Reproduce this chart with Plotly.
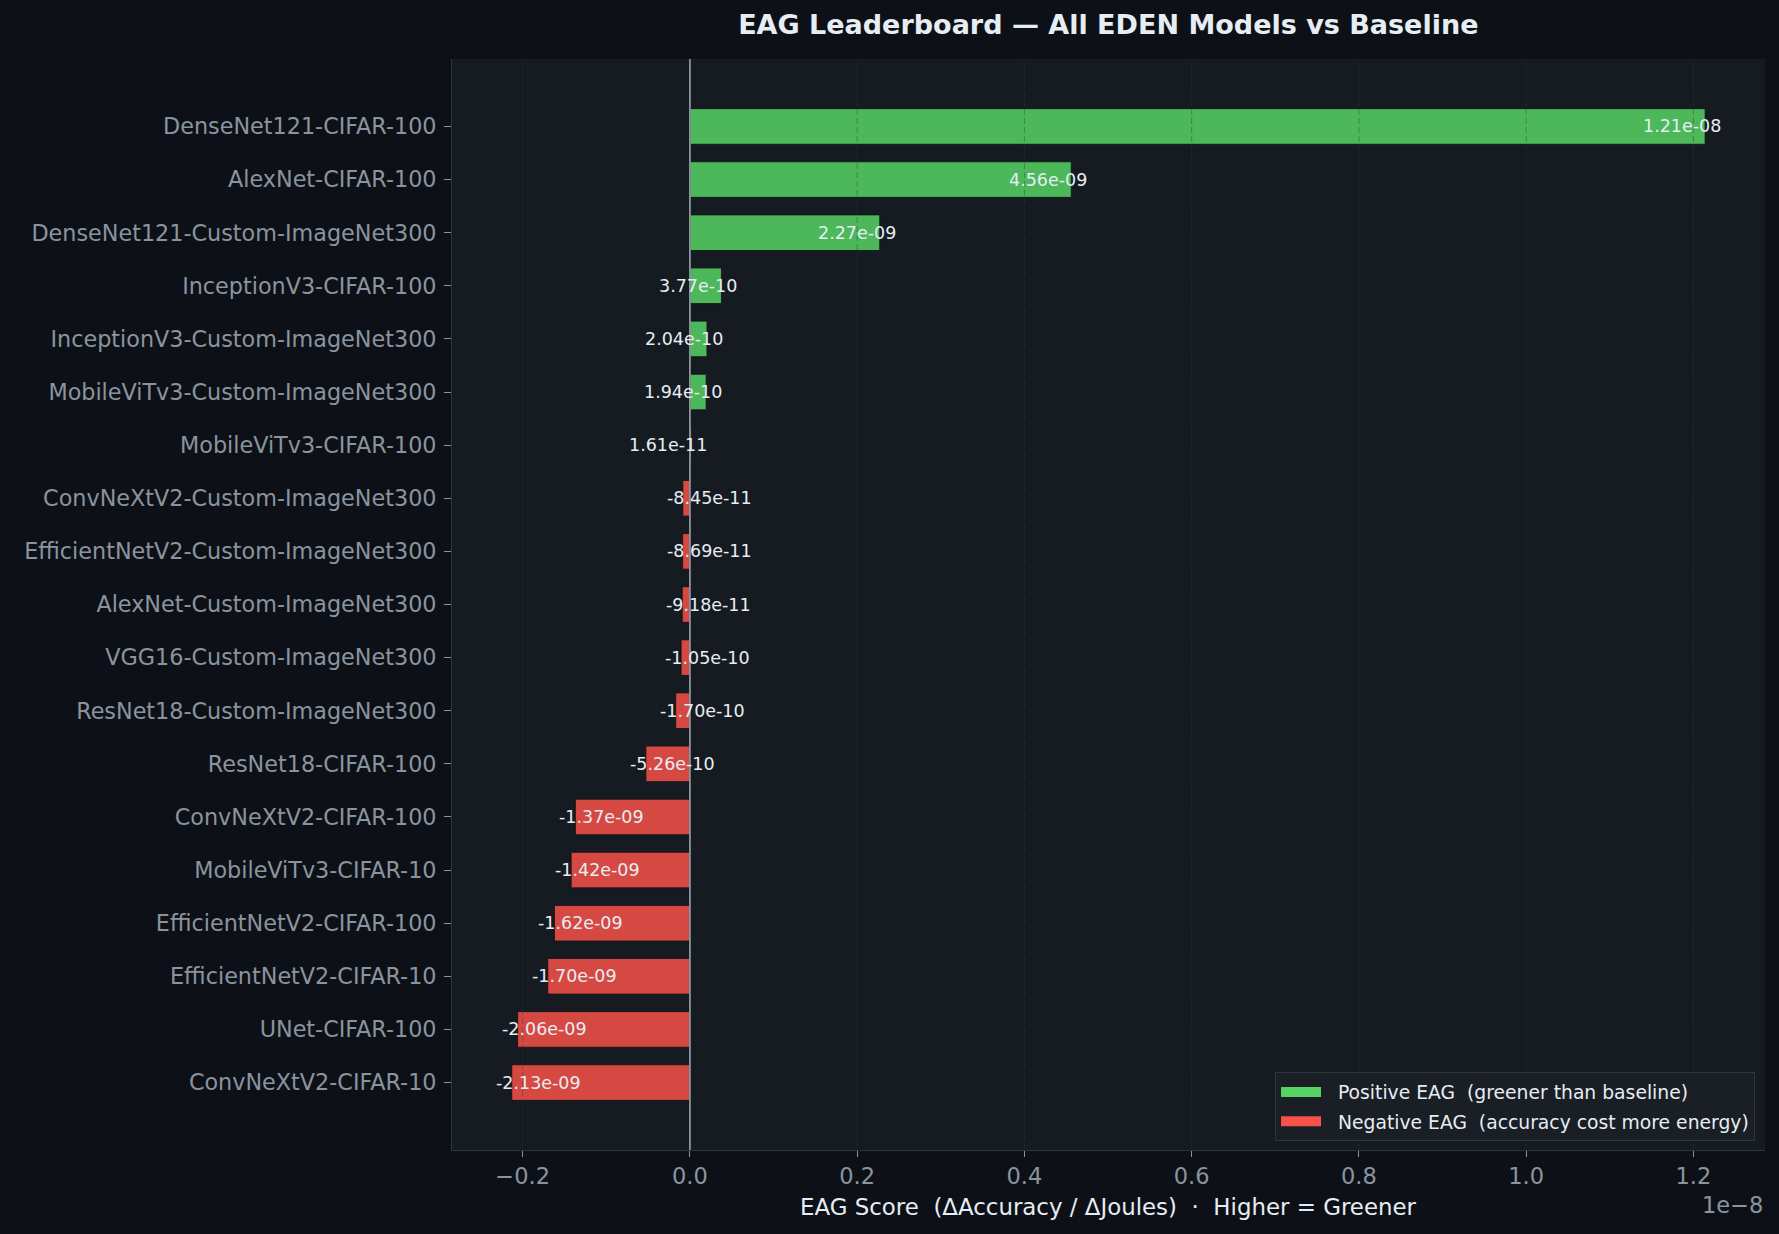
import plotly.graph_objects as go

# EAG leaderboard data (top to bottom)
models = [
    "DenseNet121-CIFAR-100", "AlexNet-CIFAR-100", "DenseNet121-Custom-ImageNet300",
    "InceptionV3-CIFAR-100", "InceptionV3-Custom-ImageNet300", "MobileViTv3-Custom-ImageNet300",
    "MobileViTv3-CIFAR-100", "ConvNeXtV2-Custom-ImageNet300", "EfficientNetV2-Custom-ImageNet300",
    "AlexNet-Custom-ImageNet300", "VGG16-Custom-ImageNet300", "ResNet18-Custom-ImageNet300",
    "ResNet18-CIFAR-100", "ConvNeXtV2-CIFAR-100", "MobileViTv3-CIFAR-10",
    "EfficientNetV2-CIFAR-100", "EfficientNetV2-CIFAR-10", "UNet-CIFAR-100", "ConvNeXtV2-CIFAR-10",
]
eag = [
    1.214e-08, 4.56e-09, 2.27e-09, 3.77e-10, 2.04e-10, 1.94e-10, 1.61e-11,
    -8.45e-11, -8.69e-11, -9.18e-11, -1.05e-10, -1.70e-10, -5.26e-10,
    -1.37e-09, -1.42e-09, -1.62e-09, -1.70e-09, -2.06e-09, -2.13e-09,
]
tick_vals = [-0.2e-8, 0.0, 0.2e-8, 0.4e-8, 0.6e-8, 0.8e-8, 1.0e-8, 1.2e-8]
tick_text = ["\u22120.2", "0.0", "0.2", "0.4", "0.6", "0.8", "1.0", "1.2"]

GREEN = "#56d364"
RED = "#f85149"
FONT = "DejaVu Sans"
NB2 = "\u00a0\u00a0"

bar_colors = ["rgba(86,211,100,0.85)" if v >= 0 else "rgba(248,81,73,0.85)" for v in eag]

fig = go.Figure()
fig.add_trace(go.Bar(
    x=eag, y=models, orientation="h", width=0.67,
    marker=dict(color=bar_colors, line=dict(color="#0d1117", width=0.8)),
    showlegend=False, hoverinfo="x+y",
))
# legend entries (thick line swatches)
fig.add_trace(go.Scatter(x=[None], y=[None], mode="lines", line=dict(color=GREEN, width=15),
                         name=NB2 + "Positive EAG" + NB2 + "(greener than baseline)", legendgroup="p"))
fig.add_trace(go.Scatter(x=[None], y=[None], mode="lines", line=dict(color=RED, width=15),
                         name=NB2 + "Negative EAG" + NB2 + "(accuracy cost more energy)", legendgroup="n"))

# value labels
for m, v in zip(models, eag):
    fig.add_annotation(
        x=v, y=m, text=f"{v:.2e}", showarrow=False, borderpad=0,
        xanchor="right" if v >= 0 else "left", xshift=17 if v >= 0 else -17,
        font=dict(family=FONT, size=17.5, color="#e6edf3"),
    )

# dashed grid drawn above the bars, plus zero line
for t in tick_vals:
    fig.add_shape(type="line", x0=t, x1=t, y0=0, y1=1, xref="x", yref="paper", layer="above",
                  line=dict(color="rgba(48,54,61,0.4)", width=1, dash="6px,3px"))
fig.add_shape(type="line", x0=0, x1=0, y0=0, y1=1, xref="x", yref="paper", layer="above",
              line=dict(color="#8b949e", width=1.8))

fig.add_annotation(x=1, y=-0.0504, xref="paper", yref="paper", text="1e\u22128", showarrow=False,
                   xanchor="right", yanchor="middle", font=dict(family=FONT, size=22.5, color="#8b949e"))
fig.add_annotation(x=0.5, y=-0.0522, xref="paper", yref="paper",
                   text="EAG Score" + NB2 + "(\u0394Accuracy / \u0394Joules)" + NB2 + "\u00b7" + NB2 + "Higher = Greener",
                   showarrow=False, xanchor="center", yanchor="middle",
                   font=dict(family=FONT, size=22.9, color="#e6edf3"))

fig.update_layout(
    width=1779, height=1234,
    margin=dict(l=452, r=14, t=59, b=84),
    paper_bgcolor="#0d1117", plot_bgcolor="#161b22",
    barmode="overlay",
    title=dict(text="EAG Leaderboard \u2014 All EDEN Models vs Baseline",
               x=0.623, xanchor="center", y=1 - 25 / 1234, yanchor="middle",
               font=dict(family=FONT, size=27, color="#e6edf3", weight="bold")),
    font=dict(family=FONT, color="#8b949e"),
    legend=dict(x=0.9924, y=0.008, xanchor="right", yanchor="bottom",
                bgcolor="#1a1e25", bordercolor="#30363d", borderwidth=1,
                font=dict(family=FONT, size=18.75, color="#e6edf3"),
                traceorder="grouped", tracegroupgap=2, itemwidth=40),
)
fig.update_xaxes(
    range=[-0.2845e-8, 1.2856e-8], tickvals=tick_vals, ticktext=tick_text,
    showgrid=False, zeroline=False, showline=True, linecolor="#30363d", linewidth=1,
    ticks="outside", ticklen=6, tickwidth=1.3, tickcolor="#8b949e",
    tickfont=dict(family=FONT, size=22.5, color="#8b949e"), ticklabelstandoff=0,
)
fig.update_yaxes(
    type="category", categoryorder="array", categoryarray=models,
    range=[len(models) - 1 + 1.27, -1.27],
    showgrid=False, zeroline=False, showline=True, linecolor="#30363d", linewidth=1,
    ticks="outside", ticklen=7, tickwidth=1.3, tickcolor="#8b949e",
    tickfont=dict(family=FONT, size=22.3, color="#8b949e"), ticklabelstandoff=3,
)

fig.write_html("out.html", config={"displayModeBar": False},
               post_script="document.body.style.margin='0';document.body.style.background='#0d1117';")
